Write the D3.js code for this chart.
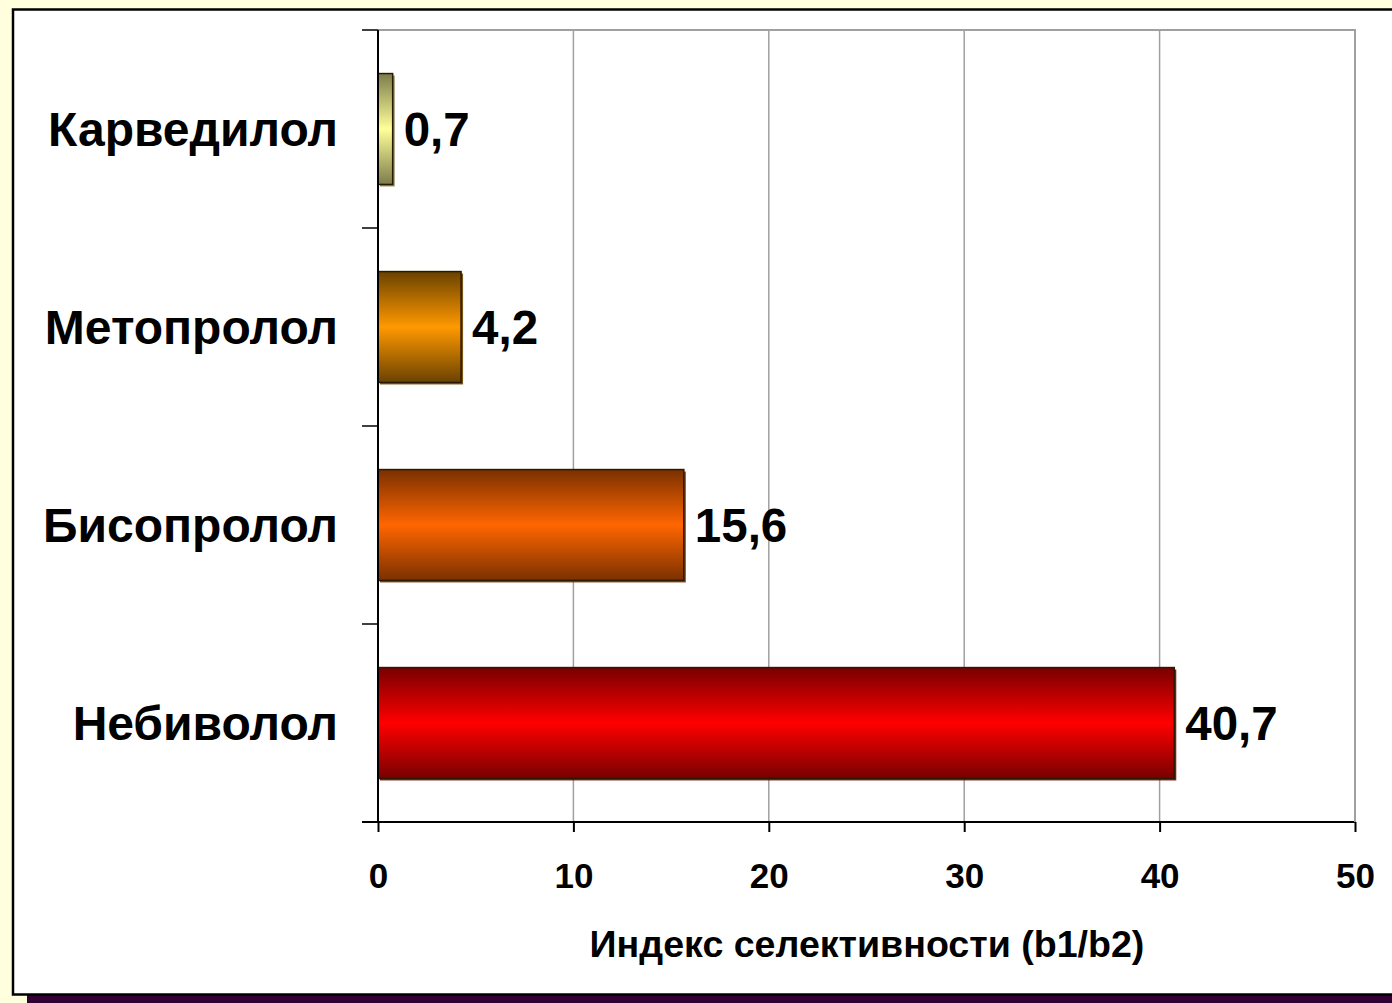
<!DOCTYPE html>
<html>
<head>
<meta charset="utf-8">
<script src="https://cdn.jsdelivr.net/npm/d3@7"></script>
<style>
  html, body { margin: 0; padding: 0; background: #ffffdd; overflow: hidden; }
  svg { display: block; }
  text { font-family: "Liberation Sans", Arial, sans-serif; font-weight: bold; fill: #000; }
</style>
</head>
<body>
<svg id="chart"></svg>
<script>
'use strict';

// data
var drugs = ["Карведилол", "Метопролол", "Бисопролол", "Небиволол"];
var selectivity = [0.7, 4.2, 15.6, 40.7];
var valueLabels = ["0,7", "4,2", "15,6", "40,7"];
var xTicks = [0, 10, 20, 30, 40, 50];
var axisTitle = "Индекс селективности (b1/b2)";
var barCenter = ["#ffff99", "#ff9900", "#ff6600", "#ff0000"];
var barEdge = ["#7c7c4c", "#6a4200", "#7a3000", "#780000"];

function draw() {
    var width = 1392,
        height = 1003;

    var svg = d3.select("#chart")
                .attr("width", width)
                .attr("height", height);

    // slide-like background: purple shadow + white panel
    svg.append("rect")
        .attr("x", 27).attr("y", 20)
        .attr("width", width).attr("height", height)
        .attr("fill", "#330033");
    svg.append("rect")
        .attr("x", 13).attr("y", 9.5)
        .attr("width", width + 20).attr("height", 985)
        .attr("fill", "#fff")
        .attr("stroke", "#000")
        .attr("stroke-width", 2.5);

    var x = d3.scaleLinear()
              .domain([0, 50])
              .range([378, 1355]);

    var y = d3.scaleBand()
              .domain(drugs)
              .range([30, 822])
              .paddingInner(0.44)
              .paddingOuter(0.22);

    var defs = svg.append("defs");
    drugs.forEach(function(d, i) {
        var g = defs.append("linearGradient")
                    .attr("id", "grad" + i)
                    .attr("x1", 0).attr("y1", 0)
                    .attr("x2", 0).attr("y2", 1);
        g.append("stop").attr("offset", "0%").attr("stop-color", barEdge[i]);
        g.append("stop").attr("offset", "50%").attr("stop-color", barCenter[i]);
        g.append("stop").attr("offset", "100%").attr("stop-color", barEdge[i]);
    });

    // gridlines
    svg.append("g")
        .selectAll("line")
        .data(xTicks.slice(1))
        .enter().append("line")
            .attr("x1", function(d) { return x(d); })
            .attr("x2", function(d) { return x(d); })
            .attr("y1", 30)
            .attr("y2", 822)
            .attr("stroke", "#a0a0a0")
            .attr("stroke-width", 1.5);

    svg.append("line")
        .attr("x1", 378).attr("x2", 1356)
        .attr("y1", 30).attr("y2", 30)
        .attr("stroke", "#a0a0a0")
        .attr("stroke-width", 2);

    // bars
    var bars = svg.append("g")
                  .selectAll("g")
                  .data(drugs)
                  .enter().append("g");

    bars.append("rect")
        .attr("x", x(0) + 2)
        .attr("y", function(d) { return y(d) + 2; })
        .attr("width", function(d, i) { return x(selectivity[i]) - x(0) + 1; })
        .attr("height", y.bandwidth())
        .attr("fill", function(d, i) { return barEdge[i]; })
        .attr("opacity", 0.9);

    bars.append("rect")
        .attr("x", x(0))
        .attr("y", function(d) { return y(d); })
        .attr("width", function(d, i) { return x(selectivity[i]) - x(0) + 1; })
        .attr("height", y.bandwidth())
        .attr("fill", function(d, i) { return "url(#grad" + i + ")"; })
        .attr("stroke", "#2a1a00")
        .attr("stroke-width", 1.5);

    bars.append("text")
        .attr("x", function(d, i) { return x(selectivity[i]) + 12; })
        .attr("y", function(d) { return y(d) + y.bandwidth() / 2; })
        .attr("dy", "0.36em")
        .style("font-size", "47.5px")
        .text(function(d, i) { return valueLabels[i]; });

    // y axis
    var yAxis = svg.append("g");
    yAxis.append("line")
        .attr("x1", 378).attr("x2", 378)
        .attr("y1", 30).attr("y2", 822)
        .attr("stroke", "#000").attr("stroke-width", 2);
    yAxis.selectAll(".tick")
        .data(d3.range(drugs.length + 1))
        .enter().append("line")
            .attr("x1", 362).attr("x2", 378)
            .attr("y1", function(d) { return 30 + d * y.step(); })
            .attr("y2", function(d) { return 30 + d * y.step(); })
            .attr("stroke", "#000").attr("stroke-width", 1.5);
    yAxis.selectAll("text")
        .data(drugs)
        .enter().append("text")
            .attr("x", 338)
            .attr("y", function(d) { return y(d) + y.bandwidth() / 2; })
            .attr("dy", "0.36em")
            .attr("text-anchor", "end")
            .style("font-size", "48px")
            .text(function(d) { return d; });

    // x axis
    var xAxis = d3.axisBottom(x)
                  .tickValues(xTicks)
                  .tickSize(10)
                  .tickPadding(31)
                  .tickFormat(d3.format("d"));

    var gx = svg.append("g")
                .attr("transform", "translate(0,822)")
                .call(xAxis);
    gx.select(".domain").remove();
    gx.selectAll(".tick line").attr("stroke", "#000").attr("stroke-width", 2);
    gx.selectAll(".tick text")
        .style("font-size", "35px")
        .style("font-family", "'Liberation Sans', Arial, sans-serif")
        .style("font-weight", "bold")
        .attr("fill", "#000");
    gx.append("line")
        .attr("x1", 362 - 0).attr("x2", 1356)
        .attr("y1", 0).attr("y2", 0)
        .attr("stroke", "#000").attr("stroke-width", 2);

    svg.append("line")
        .attr("x1", 1355).attr("x2", 1355)
        .attr("y1", 30).attr("y2", 822)
        .attr("stroke", "#a0a0a0").attr("stroke-width", 2);

    svg.append("text")
        .attr("x", 867)
        .attr("y", 957)
        .attr("text-anchor", "middle")
        .style("font-size", "37.6px")
        .text(axisTitle);
}

draw();
</script>
</body>
</html>
